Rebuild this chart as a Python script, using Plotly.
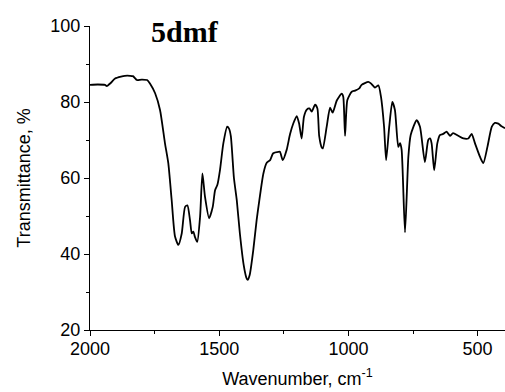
import plotly.graph_objects as go

# IR spectrum of 5dmf: wavenumber (cm^-1) vs transmittance (%)
wavenumber = [
    2000, 1970, 1942, 1935, 1920, 1903, 1880, 1865, 1845, 1834, 1825, 1819, 1800, 1779,
    1768, 1748, 1729, 1710, 1697, 1684, 1671, 1658, 1645, 1632, 1623, 1613, 1606, 1600,
    1594, 1585, 1574, 1565, 1555, 1539, 1525, 1516, 1507, 1497, 1484, 1469, 1462, 1455,
    1443, 1432, 1420, 1405, 1395, 1390, 1382, 1368, 1355, 1345, 1329, 1316, 1303, 1291,
    1271, 1265, 1254, 1239, 1226, 1213, 1200, 1191, 1181, 1172, 1161, 1151, 1142, 1129,
    1120, 1113, 1103, 1099, 1084, 1071, 1061, 1045, 1026, 1020, 1013, 1004, 987, 974,
    958, 949, 923, 913, 897, 884, 874, 862, 854, 842, 830, 820, 807, 800, 794, 781, 768,
    759, 736, 723, 704, 691, 684, 678, 668, 656, 646, 633, 620, 607, 595, 575, 555, 536,
    523, 510, 491, 478, 462, 445, 433, 420, 409, 394,
]
transmittance = [
    84.5, 84.6, 84.5, 84.2, 85.0, 86.2, 86.7, 86.9, 86.9, 86.8, 86.2, 85.8, 85.9, 85.8,
    84.9, 82.3, 77.9, 69.2, 63.9, 54.2, 44.6, 42.4, 45.4, 52.4, 52.8, 48.9, 45.4, 45.9,
    44.5, 43.2, 49.8, 61.2, 55.1, 49.4, 52.4, 56.8, 58.2, 62.1, 69.1, 73.5, 73.0, 71.0,
    60.0, 54.2, 45.4, 37.0, 33.8, 33.2, 34.5, 41.1, 49.0, 54.0, 61.2, 64.0, 64.7, 66.5,
    66.9, 66.9, 64.7, 67.4, 71.5, 74.4, 76.3, 74.4, 70.4, 76.1, 78.0, 78.3, 77.5, 79.3,
    78.3, 71.0, 68.0, 67.8, 73.5, 78.5, 77.2, 80.4, 82.2, 81.4, 71.1, 80.5, 82.7, 83.0,
    83.6, 84.5, 85.3, 84.9, 83.8, 84.4, 81.4, 73.5, 64.7, 73.5, 80.0, 77.9, 68.2, 69.2,
    67.4, 45.7, 65.6, 71.3, 75.2, 73.5, 64.2, 70.0, 70.4, 69.1, 62.0, 69.1, 71.3, 71.6,
    72.2, 71.1, 71.8, 71.1, 70.4, 70.4, 71.6, 69.1, 65.6, 63.9, 68.2, 73.5, 74.5, 74.3,
    73.7, 73.1,
]

x_ticks = [2000, 1500, 1000, 500]
y_ticks = [20, 40, 60, 80, 100]
sample_label = "5dmf"

axis_font = dict(family="Liberation Sans, Arial, sans-serif", size=18, color="black")

fig = go.Figure(
    go.Scatter(
        x=wavenumber,
        y=transmittance,
        mode="lines",
        line=dict(color="black", width=1.8, shape="spline", smoothing=0.6),
        hoverinfo="skip",
    )
)

fig.update_layout(
    width=505,
    height=392,
    margin=dict(l=90, r=0, t=26, b=62),
    paper_bgcolor="white",
    plot_bgcolor="white",
    showlegend=False,
    font=axis_font,
)

fig.update_xaxes(
    range=[2000, 394],
    tickvals=x_ticks,
    ticktext=[str(v) for v in x_ticks],
    ticks="outside",
    ticklen=5,
    tickwidth=1.2,
    tickcolor="black",
    ticklabelstandoff=-3,
    minor=dict(ticks="outside", ticklen=3, tickwidth=1.2, tickcolor="black",
               tick0=1750, dtick=500, showgrid=False),
    showline=True,
    linecolor="black",
    linewidth=1.3,
    showgrid=False,
    zeroline=False,
    tickfont=axis_font,
    title=dict(text="Wavenumber, cm<sup>-1</sup>", font=axis_font, standoff=14),
)

fig.update_yaxes(
    range=[20, 100],
    tickvals=y_ticks,
    ticktext=[str(v) for v in y_ticks],
    ticks="outside",
    ticklen=5,
    tickwidth=1.2,
    tickcolor="black",
    minor=dict(ticks="outside", ticklen=3, tickwidth=1.2, tickcolor="black",
               tick0=30, dtick=20, showgrid=False),
    showline=True,
    linecolor="black",
    linewidth=1.3,
    showgrid=False,
    zeroline=False,
    tickfont=axis_font,
    title=dict(text="Transmittance, %", font=axis_font, standoff=14),
)

fig.add_annotation(
    text=f"<b>{sample_label}</b>",
    xref="paper", yref="paper",
    x=0.229, y=0.981,
    xanchor="center", yanchor="middle",
    showarrow=False,
    font=dict(family="Liberation Serif, Times New Roman, serif", size=30, color="black"),
)

fig.write_html("out.html")
